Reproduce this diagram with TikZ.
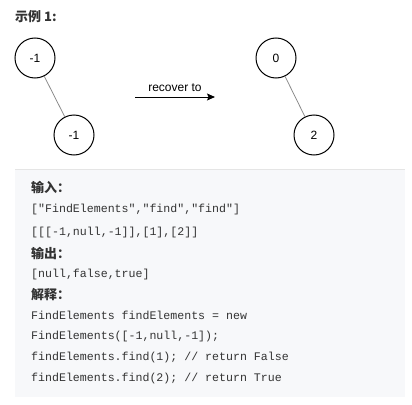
\documentclass[tikz,border=0pt]{standalone}
\usepackage{fontspec}
\setmainfont{Liberation Sans}
\setmonofont{Liberation Mono}
\newfontfamily\cjk{Noto Sans CJK SC}
\usepackage{xcolor}
\usepackage{tikz}
\usetikzlibrary{arrows.meta}
\definecolor{codebg}{HTML}{F7F8FA}
\definecolor{codefg}{HTML}{333333}

\begin{document}
\begin{tikzpicture}[x=1pt,y=-1pt,
  t/.style={circle,draw,line width=1pt,minimum size=40pt,inner sep=0pt,font=\fontsize{12}{14}\selectfont},
  e/.style={draw=gray!90,line width=0.8pt},
  a/.style={-{Stealth[length=8pt,width=7pt,inset=1.5pt]},line width=1pt},
  hd/.style={anchor=west,inner sep=0pt,font=\cjk\bfseries\fontsize{13}{15}\selectfont,text=codefg},
  c/.style={anchor=west,inner sep=0pt,font=\ttfamily\fontsize{11.6}{14}\selectfont,text=codefg}
]
\useasboundingbox (0,0) rectangle (412,404);
\fill[codebg] (15,170) rectangle (405,397);
\draw[gray!20] (15,169.5) -- (405,169.5);
\node[hd] (title) at (15,17) {示例 1:};
% trees
\node[t] (l1) at (35,58)  {-1};
\node[t] (l2) at (74,135) {-1};
\node[t] (r1) at (276,58) {0};
\node[t] (r2) at (314,135) {2};
\draw[e](l1)--(l2);\draw[e](r1)--(r2);
\coordinate (p) at (135,97);\coordinate (q) at (215,97);
\draw[a](p)--node[above=1.5pt,font=\fontsize{12}{14}\selectfont]{recover to}(q);
% code box
\node[hd] (h1) at (31,187) {输入：};
\node[c]  (c1) at (31,209) {["FindElements","find","find"]};
\node[c]  (c2) at (31,232) {[[[-1,null,-1]],[1],[2]]};
\node[hd] (h2) at (31,253) {输出：};
\node[c]  (c3) at (31,274) {[null,false,true]};
\node[hd] (h3) at (31,295) {解释：};
\node[c]  (c4) at (31,315) {FindElements findElements = new};
\node[c]  (c5) at (31,336) {FindElements([-1,null,-1]);};
\node[c]  (c6) at (31,357) {findElements.find(1); // return False};
\node[c]  (c7) at (31,378) {findElements.find(2); // return True};
\end{tikzpicture}
\end{document}
